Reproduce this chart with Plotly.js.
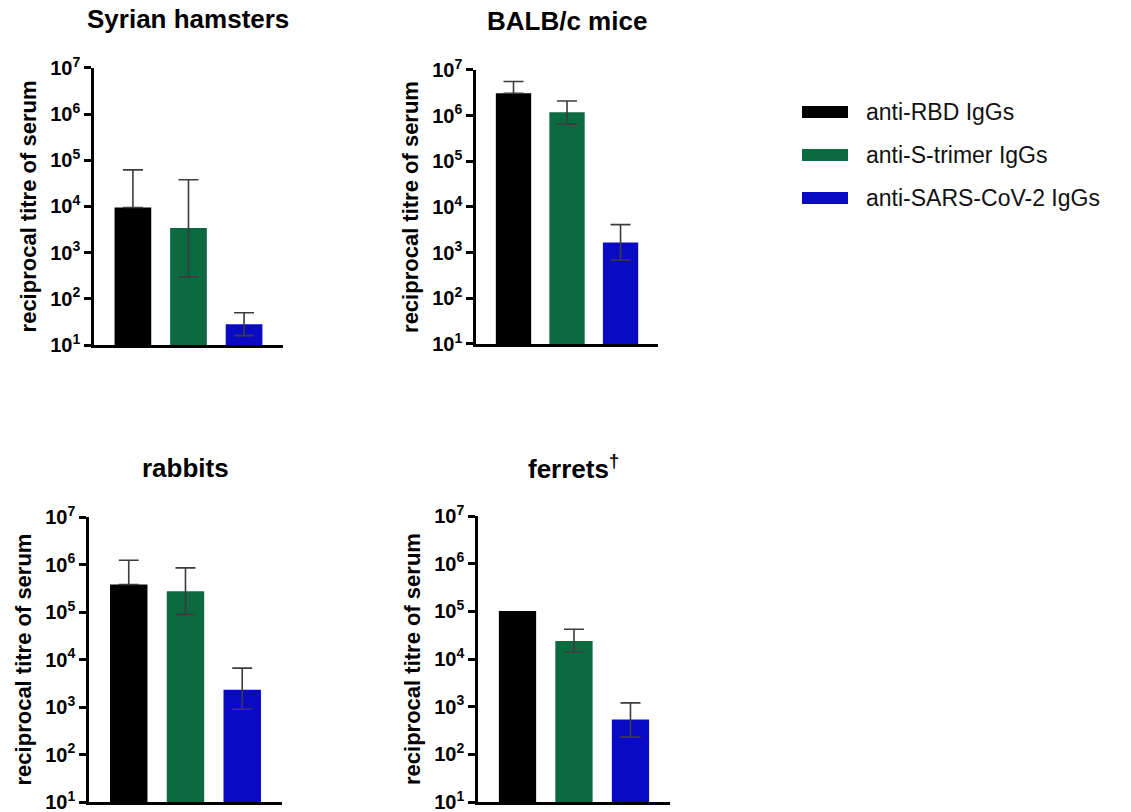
<!DOCTYPE html>
<html>
<head>
<meta charset="utf-8">
<script src="https://cdn.plot.ly/plotly-3.0.1.min.js"></script>
<style>html,body{margin:0;padding:0;background:#fff;}#chart{width:1131px;height:812px;}</style>
</head>
<body>
<div id="chart"></div>
<script>
// ---- data ----
const groups = ['Syrian hamsters', 'BALB/c mice', 'rabbits', 'ferrets<sup>†</sup>'];
const series = ['anti-RBD IgGs', 'anti-S-trimer IgGs', 'anti-SARS-CoV-2 IgGs'];
const seriesColors = ['#000000', '#0b6a40', '#0a0ac4'];
// mean reciprocal titres, per group: [RBD, S-trimer, SARS-CoV-2]
const hamsters = [9500, 3400, 28];
const mice     = [3.1e6, 1.19e6, 1660];
const rabbits  = [3.8e5, 2.75e5, 2300];
const ferrets  = [1.02e5, 2.4e4, 540];
// error bar upper ends (null = no error bar shown)
const hamstersUp = [6.2e4, 3.8e4, 50];
const miceUp     = [5.6e6, 2.1e6, 4100];
const rabbitsUp  = [1.23e6, 8.5e5, 6600];
const ferretsUp  = [null, 4.2e4, 1200];
// error bar lower ends (hidden inside the black bars)
const hamstersLow = [9500, 295, 16];
const miceLow     = [3.1e6, 6.6e5, 690];
const rabbitsLow  = [3.8e5, 8.9e4, 900];
const ferretsLow  = [null, 1.4e4, 230];
const yTickVals = [10, 100, 1000, 1e4, 1e5, 1e6, 1e7];
const yTickText = ['10<sup>1</sup>', '10<sup>2</sup>', '10<sup>3</sup>', '10<sup>4</sup>', '10<sup>5</sup>', '10<sup>6</sup>', '10<sup>7</sup>'];
const yTitle = 'reciprocal titre of serum';

const values = [hamsters, mice, rabbits, ferrets];
const ups = [hamstersUp, miceUp, rabbitsUp, ferretsUp];
const lows = [hamstersLow, miceLow, rabbitsLow, ferretsLow];

const FONT = 'Liberation Sans, Arial, sans-serif';
const traces = values.map((v, g) => ({
  type: 'bar',
  x: series,
  y: v,
  xaxis: g === 0 ? 'x' : 'x' + (g + 1),
  yaxis: g === 0 ? 'y' : 'y' + (g + 1),
  width: 0.66,
  marker: {color: seriesColors, line: {width: 0}},
  error_y: {
    type: 'data', symmetric: false,
    array: v.map((val, i) => ups[g][i] === null ? NaN : ups[g][i] - val),
    arrayminus: v.map((val, i) => lows[g][i] === null ? NaN : val - lows[g][i]),
    color: '#3c3c3c', thickness: 1.6, width: 10
  },
  showlegend: false,
  hoverinfo: 'x+y'
}));

// panel placement (paper fractions)
const xDomains = [[0.0831, 0.2502], [0.4209, 0.5818], [0.0787, 0.2493], [0.4226, 0.5924]];
const yDomains = [[0.5751, 0.9163], [0.5764, 0.9138], [0.0123, 0.3633], [0.0123, 0.3645]];

const layout = {
  width: 1131, height: 812,
  margin: {l: 0, r: 0, t: 0, b: 0},
  paper_bgcolor: '#ffffff', plot_bgcolor: '#ffffff',
  font: {family: FONT, color: '#000'},
  bargap: 0.3,
  annotations: [], shapes: []
};

for (let g = 0; g < 4; g++) {
  const sx = g === 0 ? '' : String(g + 1);
  layout['xaxis' + sx] = {
    domain: xDomains[g], anchor: 'y' + sx, range: [-0.7, 2.7],
    showline: true, linecolor: '#000', linewidth: 2.5,
    showticklabels: false, ticks: '', showgrid: false, zeroline: false, fixedrange: true
  };
  layout['yaxis' + sx] = {
    domain: yDomains[g], anchor: 'x' + sx, type: 'log', range: [1, 7],
    showline: true, linecolor: '#000', linewidth: 2.5,
    ticks: 'outside', ticklen: 7, tickwidth: 2.5, tickcolor: '#000',
    tickvals: yTickVals, ticktext: yTickText, ticklabeloverflow: 'allow',
    tickfont: {family: FONT, size: 20, weight: 'bold', color: '#000'},
    showgrid: false, zeroline: false, automargin: false,
    title: {text: yTitle, font: {family: FONT, size: 22, weight: 'bold', color: '#000'}, standoff: 8}
  };
  const xd = xDomains[g], yd = yDomains[g];
  layout.annotations.push({
    xref: 'paper', yref: 'paper',
    x: (xd[0] + xd[1]) / 2, y: yd[1] + 0.06,
    xanchor: 'center', yanchor: 'middle', showarrow: false,
    text: groups[g],
    font: {family: FONT, size: 26, weight: 'bold', color: '#000'}
  });
}

// legend (drawn as swatches + labels)
series.forEach((s, i) => {
  const yc = 1 - (112 + i * 43) / 812;
  layout.shapes.push({
    type: 'rect', xref: 'paper', yref: 'paper',
    x0: 802 / 1131, x1: 848 / 1131, y0: yc - 6 / 812, y1: yc + 6 / 812,
    fillcolor: seriesColors[i], line: {width: 0}
  });
  layout.annotations.push({
    xref: 'paper', yref: 'paper', x: 864 / 1131, y: yc,
    xanchor: 'left', yanchor: 'middle', showarrow: false,
    text: s, font: {family: FONT, size: 23, color: '#111'}
  });
});

Plotly.newPlot('chart', traces, layout, {displayModeBar: false});
</script>
</body>
</html>
